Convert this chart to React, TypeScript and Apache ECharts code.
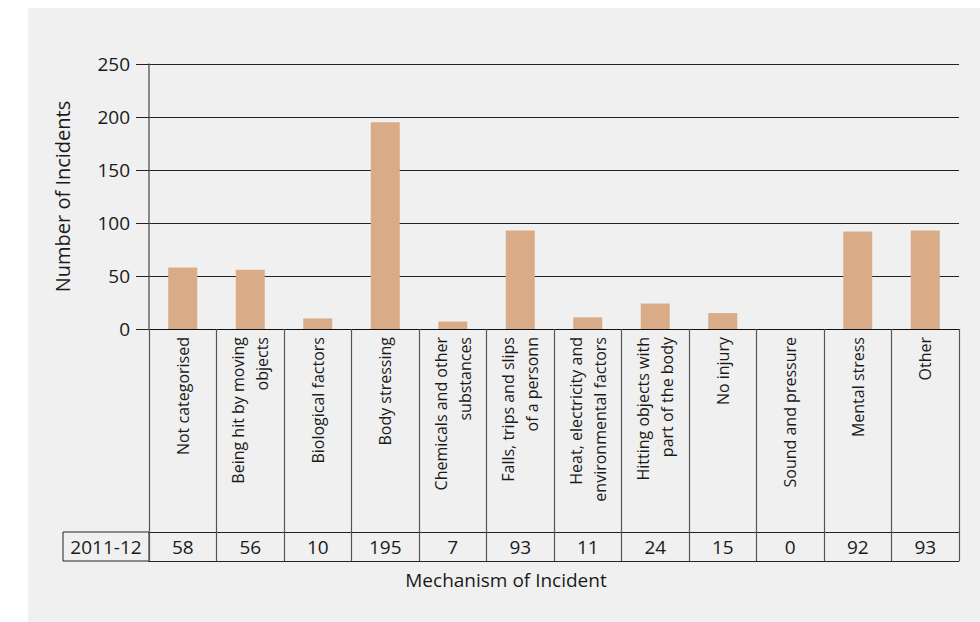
import React, { useEffect, useRef } from "react";
import * as echarts from "echarts";

const categories: string[] = [
  "Not categorised",
  "Being hit by moving\nobjects",
  "Biological factors",
  "Body stressing",
  "Chemicals and other\nsubstances",
  "Falls, trips and slips\nof a personn",
  "Heat, electricity and\nenvironmental factors",
  "Hitting objects with\npart of the body",
  "No injury",
  "Sound and pressure",
  "Mental stress",
  "Other",
];

const seriesLabel = "2011-12";
const values: number[] = [58, 56, 10, 195, 7, 93, 11, 24, 15, 0, 92, 93];

const yTicks = { min: 0, max: 250, interval: 50 };

const FONT = "'Open Sans', 'Noto Sans', sans-serif";
const TEXT = "#1a1a1a";

export default function App() {
  const ref = useRef<HTMLDivElement>(null);

  useEffect(() => {
    if (!ref.current) return;
    const chart = echarts.init(ref.current, null, { renderer: "svg" });
    chart.setOption({
      animation: false,
      backgroundColor: "transparent",
      textStyle: { fontFamily: FONT },
      grid: { left: 149, right: 21, top: 64, bottom: 293 },
      yAxis: {
        type: "value",
        min: yTicks.min,
        max: yTicks.max,
        interval: yTicks.interval,
        name: "Number of Incidents",
        nameLocation: "middle",
        nameGap: 77,
        nameTextStyle: { fontSize: 20, color: TEXT, fontFamily: FONT },
        axisLine: { show: true, lineStyle: { color: "#666", width: 1.5 } },
        axisTick: { show: true, length: 13, lineStyle: { color: "#222" } },
        axisLabel: { fontSize: 19, color: TEXT, margin: 19, fontFamily: FONT },
        splitLine: { show: true, lineStyle: { color: "#222", width: 1 } },
      },
      xAxis: [
        {
          type: "category",
          data: categories,
          position: "bottom",
          axisLine: { show: true, lineStyle: { color: "#111", width: 1 } },
          axisTick: {
            show: true,
            alignWithLabel: false,
            interval: 0,
            length: 232,
            lineStyle: { color: "#555", width: 1.2 },
          },
          axisLabel: {
            rotate: 90,
            interval: 0,
            fontSize: 16,
            lineHeight: 24,
            margin: 8,
            color: TEXT,
            fontFamily: FONT,
          },
        },
        {
          type: "category",
          data: categories,
          position: "bottom",
          offset: 203,
          axisLine: { show: true, lineStyle: { color: "#222", width: 1 } },
          axisTick: { show: false },
          axisLabel: {
            interval: 0,
            fontSize: 19,
            margin: 5,
            color: TEXT,
            fontFamily: FONT,
            formatter: (_v: string, i: number) => String(values[i]),
          },
        },
        {
          type: "category",
          data: categories,
          position: "bottom",
          offset: 232,
          axisLine: { show: true, lineStyle: { color: "#222", width: 1 } },
          axisTick: { show: false },
          axisLabel: { show: false },
        },
      ],
      series: [
        {
          type: "bar",
          name: seriesLabel,
          xAxisIndex: 0,
          data: values,
          barWidth: 29,
          itemStyle: { color: "#d9ac87" },
        },
      ],
      graphic: [
        {
          type: "rect",
          shape: { x: 63, y: 532, width: 86, height: 29 },
          style: { fill: "transparent", stroke: "#222", lineWidth: 1 },
        },
        {
          type: "text",
          x: 106,
          y: 547,
          style: {
            text: seriesLabel,
            fontSize: 19,
            fontFamily: FONT,
            fill: TEXT,
            align: "center",
            verticalAlign: "middle",
          },
        },
        {
          type: "text",
          x: 506,
          y: 580,
          style: {
            text: "Mechanism of Incident",
            fontSize: 19,
            fontFamily: FONT,
            fill: TEXT,
            align: "center",
            verticalAlign: "middle",
          },
        },
      ],
    });
    return () => chart.dispose();
  }, []);

  return (
    <div style={{ position: "absolute", left: 0, top: 0, width: 980, height: 622, background: "#fff" }}>
      <div style={{ position: "absolute", left: 28, top: 8, width: 952, height: 614, background: "#f0f0f0" }} />
      <div ref={ref} style={{ position: "absolute", left: 0, top: 0, width: 980, height: 622 }} />
    </div>
  );
}
